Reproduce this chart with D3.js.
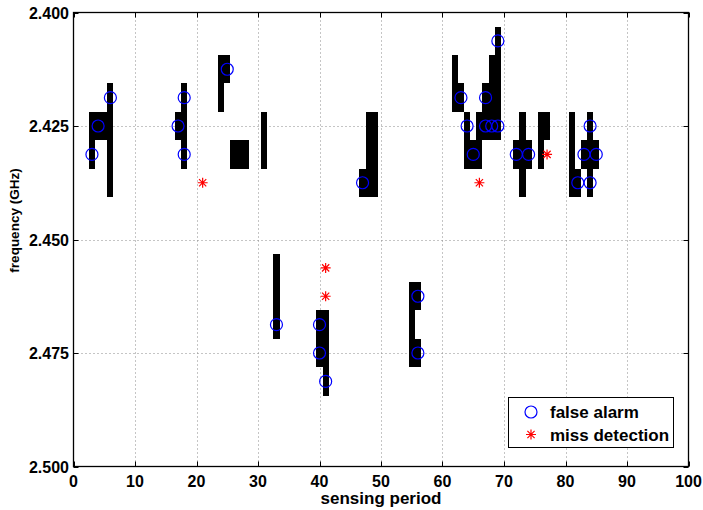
<!DOCTYPE html>
<html lang="en">
<head>
  <meta charset="UTF-8" />
  <title>Sensing results</title>
  <script src="https://d3js.org/d3.v7.min.js"></script>
  <style>
    body { margin: 0; background: #fff; }
    text { font-family: "Liberation Sans", Arial, Helvetica, sans-serif; font-weight: bold; fill: #000; }
  </style>
</head>
<body>
  <div id="chart"></div>

  <script>
    // channel spacing in GHz, every cell is one sensing period wide and one channel tall
    const channelStep = 0.00625;
    const ch = k => +(2.4 + k * channelStep).toFixed(5);

    // occupied cells: [sensing period, centre frequency]
    const occupiedPeriods = [3, 3, 4, 5, 6, 6, 6, 6, 17, 18, 18, 18, 24, 24, 25, 26, 27, 28, 31, 31,
      33, 33, 33, 40, 40, 41, 41, 41, 47, 48, 48, 48, 49, 49, 49, 55, 55, 55, 56, 56,
      62, 62, 63, 64, 64, 65, 66, 66, 67, 67, 68, 68, 68, 69, 69, 69, 69,
      72, 73, 73, 73, 74, 76, 76, 77, 81, 81, 81, 82, 83, 84, 84, 84, 85];
    const occupiedFreqs = [ch(4), ch(5), ch(4), ch(4), ch(3), ch(4), ch(5), ch(6), ch(4), ch(3), ch(4), ch(5),
      ch(2), ch(3), ch(2), ch(5), ch(5), ch(5), ch(4), ch(5),
      ch(9), ch(10), ch(11), ch(11), ch(12), ch(11), ch(12), ch(13), ch(6), ch(4), ch(5), ch(6), ch(4), ch(5), ch(6),
      ch(10), ch(11), ch(12), ch(10), ch(12),
      ch(2), ch(3), ch(3), ch(4), ch(5), ch(5), ch(4), ch(5), ch(3), ch(4), ch(2), ch(3), ch(4), ch(1), ch(2), ch(3), ch(4),
      ch(5), ch(4), ch(5), ch(6), ch(5), ch(4), ch(5), ch(4), ch(4), ch(5), ch(6), ch(6), ch(5), ch(4), ch(5), ch(6), ch(5)];

    // false alarms
    const falseAlarmPeriods = [6, 4, 3, 18, 17, 18, 25, 47, 33, 40, 40, 41, 56, 56, 69, 63, 67, 64, 67, 68, 69,
      65, 72, 74, 84, 83, 85, 82, 84];
    const falseAlarmFreqs = [ch(3), ch(4), ch(5), ch(3), ch(4), ch(5), ch(2), ch(6), ch(11), ch(11), ch(12), ch(13),
      ch(10), ch(12), ch(1), ch(3), ch(3), ch(4), ch(4), ch(4), ch(4), ch(5), ch(5), ch(5), ch(4), ch(5), ch(5), ch(6), ch(6)];

    // miss detections
    const missPeriods = [21, 66, 77, 41, 41];
    const missFreqs = [ch(6), ch(6), ch(5), ch(9), ch(10)];

    const xTicks = d3.range(0, 101, 10);
    const yTicks = [2.400, 2.425, 2.450, 2.475, 2.500];
    const legendLabels = ["false alarm", "miss detection"];

    const width = 703, height = 510;
    const plotLeft = 73.5, plotRight = 688.5, plotTop = 12.5, plotBottom = 466.5;

    const svg = d3.select("#chart").append("svg").attr("width", width).attr("height", height);
    const x = d3.scaleLinear().domain([0, 100]).range([plotLeft, plotRight]);
    const y = d3.scaleLinear().domain([2.4, 2.5]).range([plotTop, plotBottom]);

    // dotted grid
    const grid = svg.append("g").attr("stroke", "#8a8a8a").attr("stroke-width", 1).attr("stroke-dasharray", "1,3");
    grid.selectAll("line.gx").data(xTicks.slice(1, -1)).enter().append("line")
      .attr("x1", d => Math.round(x(d)) + 0.5).attr("x2", d => Math.round(x(d)) + 0.5)
      .attr("y1", plotTop).attr("y2", plotBottom);
    grid.selectAll("line.gy").data(yTicks.slice(1, -1)).enter().append("line")
      .attr("y1", d => Math.round(y(d)) + 0.5).attr("y2", d => Math.round(y(d)) + 0.5)
      .attr("x1", plotLeft).attr("x2", plotRight);

    // occupied cells
    const cells = occupiedPeriods.map((p, i) => ({ p, f: occupiedFreqs[i] }));
    svg.append("g").selectAll("rect").data(cells).enter().append("rect")
      .attr("shape-rendering", "crispEdges")
      .attr("x", d => x(d.p - 0.5)).attr("width", d => x(d.p + 0.5) - x(d.p - 0.5))
      .attr("y", d => y(d.f - channelStep / 2)).attr("height", d => y(d.f + channelStep / 2) - y(d.f - channelStep / 2))
      .attr("fill", "#000");

    // axes box with inward ticks on all sides
    const axisG = svg.append("g");
    const tickLen = 5;
    axisG.append("rect").attr("x", plotLeft).attr("y", plotTop).attr("width", plotRight - plotLeft).attr("height", plotBottom - plotTop)
      .attr("fill", "none").attr("stroke", "#000").attr("stroke-width", 1.3);
    xTicks.forEach(t => {
      const px = Math.round(x(t)) + 0.5;
      axisG.append("line").attr("x1", px).attr("x2", px).attr("y1", plotBottom).attr("y2", plotBottom - tickLen).attr("stroke", "#000");
      axisG.append("line").attr("x1", px).attr("x2", px).attr("y1", plotTop).attr("y2", plotTop + tickLen).attr("stroke", "#000");
    });
    yTicks.forEach(t => {
      const py = Math.round(y(t)) + 0.5;
      axisG.append("line").attr("y1", py).attr("y2", py).attr("x1", plotLeft).attr("x2", plotLeft + tickLen).attr("stroke", "#000");
      axisG.append("line").attr("y1", py).attr("y2", py).attr("x1", plotRight).attr("x2", plotRight - tickLen).attr("stroke", "#000");
    });

    svg.append("g").selectAll("text").data(xTicks).enter().append("text")
      .attr("x", d => x(d)).attr("y", 487).attr("text-anchor", "middle").style("font-size", "16px")
      .text(d => d);
    svg.append("g").selectAll("text").data(yTicks).enter().append("text")
      .attr("x", 69).attr("y", d => y(d) + 6).attr("text-anchor", "end").style("font-size", "16px")
      .text(d => d.toFixed(3));

    svg.append("text").attr("x", (plotLeft + plotRight) / 2).attr("y", 503.5).attr("text-anchor", "middle")
      .style("font-size", "17px").text("sensing period");
    svg.append("text").attr("transform", "translate(18.5,220.5) rotate(-90)").attr("text-anchor", "middle")
      .style("font-size", "13.5px").text("frequency (GHz)");

    // markers
    const star = s => {
      const d = s * 0.72;
      return `M${-s},0H${s}M0,${-s}V${s}M${-d},${-d}L${d},${d}M${-d},${d}L${d},${-d}`;
    };
    svg.append("g").selectAll("circle").data(falseAlarmPeriods.map((p, i) => ({ p, f: falseAlarmFreqs[i] })))
      .enter().append("circle")
      .attr("cx", d => x(d.p)).attr("cy", d => y(d.f)).attr("r", 6)
      .attr("fill", "none").attr("stroke", "#0000ff").attr("stroke-width", 1.2);
    svg.append("g").selectAll("path").data(missPeriods.map((p, i) => ({ p, f: missFreqs[i] })))
      .enter().append("path")
      .attr("transform", d => `translate(${x(d.p)},${y(d.f)})`).attr("d", star(5))
      .attr("fill", "none").attr("stroke", "#ff0000").attr("stroke-width", 1.2);

    // legend
    const lg = svg.append("g");
    lg.append("rect").attr("x", 508.5).attr("y", 397.5).attr("width", 165).attr("height", 50)
      .attr("fill", "#fff").attr("stroke", "#000").attr("stroke-width", 1);
    lg.append("circle").attr("cx", 531).attr("cy", 412).attr("r", 6)
      .attr("fill", "none").attr("stroke", "#0000ff").attr("stroke-width", 1.2);
    lg.append("path").attr("transform", "translate(531,434.5)").attr("d", star(5))
      .attr("fill", "none").attr("stroke", "#ff0000").attr("stroke-width", 1.2);
    lg.selectAll("text").data(legendLabels).enter().append("text")
      .attr("x", 550).attr("y", (d, i) => 418 + i * 23).style("font-size", "17px").text(d => d);
  </script>
</body>
</html>
